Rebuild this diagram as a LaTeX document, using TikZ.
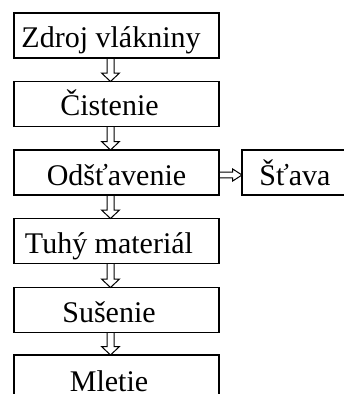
\documentclass[tikz,border=0pt]{standalone}
\usepackage{fontspec}
\setmainfont{Liberation Serif}
\usetikzlibrary{calc}

\tikzset{
  stage/.style={draw=black, line width=1.6pt, minimum width=205pt,
    minimum height=45pt, inner sep=0pt, outer sep=0pt},
  lbl/.style={anchor=base, inner sep=0pt, font=\fontsize{30}{30}\selectfont},
  blk/.style={draw=black, line width=1pt, line join=miter},
}

% hollow block arrow pointing down, from #1 (top) to #2 (tip)
\newcommand\blkdown[2]{%
  \draw[blk] let \p1=(#1), \p2=(#2) in
    (\x1-3.5pt,\y1) -- (\x1-3.5pt,\y2+8.5pt) -- (\x1-9pt,\y2+8.5pt) --
    (\x1,\y2) -- (\x1+9pt,\y2+8.5pt) -- (\x1+3.5pt,\y2+8.5pt) -- (\x1+3.5pt,\y1);}
% hollow block arrow pointing right, from #1 (tail) to #2 (tip)
\newcommand\blkright[2]{%
  \draw[blk] let \p1=(#1), \p2=(#2) in
    (\x1,\y1+2.8pt) -- (\x2-9.3pt,\y1+2.8pt) -- (\x2-9.3pt,\y1+6pt) --
    (\x2,\y1) -- (\x2-9.3pt,\y1-6pt) -- (\x2-9.3pt,\y1-2.8pt) -- (\x1,\y1-2.8pt);}

\begin{document}
\begin{tikzpicture}[x=1pt, y=-1pt]
  \useasboundingbox (0,0) rectangle (344,394);
  \fill[white] (0,0) rectangle (344,394);
  \clip (0,0) rectangle (344,394);

  % process stages
  \node[stage] (b1) at (116.5,35.5) {};
  \node[stage] (b2) at (116.5,104) {};
  \node[stage] (b3) at (116.5,172.5) {};
  \node[stage] (b4) at (116.5,241) {};
  \node[stage] (b5) at (116.5,310) {};
  \node[stage] (b6) at (116.5,377.5) {};
  \node[stage, minimum width=130pt] (s) at (307,172.5) {};

  % labels
  \node[lbl] (t1) at (111,47.5) {Zdroj vlákniny};
  \node[lbl] (t2) at (109.5,115.5) {Čistenie};
  \node[lbl] (t3) at (116.5,185) {Odšťavenie};
  \node[lbl] (t4) at (109,253.5) {Tuhý materiál};
  \node[lbl] (t5) at (109,322) {Sušenie};
  \node[lbl] (t6) at (109,391) {Mletie};
  \node[lbl] (ts) at (295,185) {Šťava};

  % flow arrows
  \coordinate (ax) at (110.5,0);
  \coordinate (ay) at (0,175);
  \blkdown{b1.south -| ax}{b2.north -| ax}
  \blkdown{b2.south -| ax}{b3.north -| ax}
  \blkdown{b3.south -| ax}{b4.north -| ax}
  \blkdown{b4.south -| ax}{b5.north -| ax}
  \blkdown{b5.south -| ax}{b6.north -| ax}
  \blkright{b3.east |- ay}{s.west |- ay}
\end{tikzpicture}
\end{document}
